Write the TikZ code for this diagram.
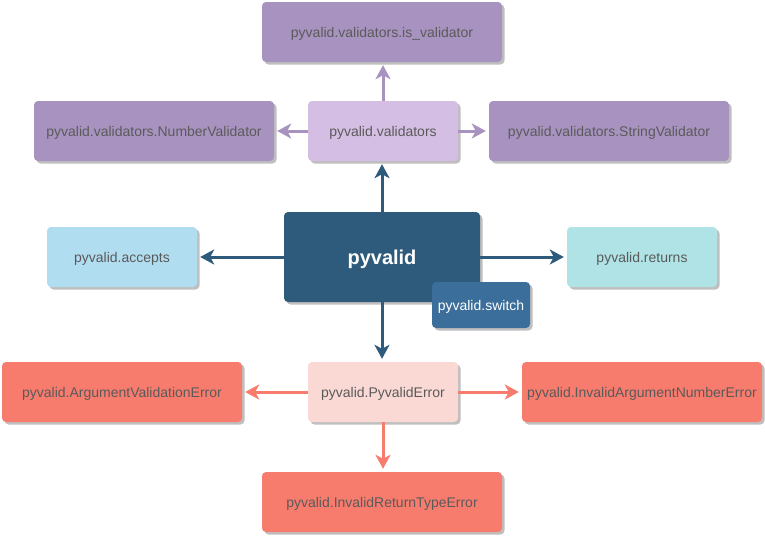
\documentclass[tikz,border=0pt]{standalone}
\usepackage{fontspec}
\setmainfont{Liberation Sans}
\usetikzlibrary{arrows.meta,shadows}
\definecolor{txt}{HTML}{5A5A5A}
\definecolor{purpD}{HTML}{A893C0}
\definecolor{purpL}{HTML}{D5BEE3}
\definecolor{navy}{HTML}{2E5B7C}
\definecolor{swblue}{HTML}{3B6E9A}
\definecolor{accB}{HTML}{B1DDF0}
\definecolor{retC}{HTML}{B0E3E6}
\definecolor{errL}{HTML}{FAD9D5}
\definecolor{errD}{HTML}{F87C6D}
\tikzset{
  box/.style={rectangle, rounded corners=4pt, draw=none, text=txt,
    font=\fontsize{14}{16}\selectfont, inner sep=0pt, text depth=0pt,
    drop shadow={shadow xshift=2.5pt, shadow yshift=-2.5pt, fill=black, opacity=0.25}},
  arr/.style={line width=3pt, shorten >=3pt, -{Stealth[length=14pt,width=15pt,inset=4pt]}},
}
\begin{document}
\begin{tikzpicture}[x=1pt,y=-1pt]
\useasboundingbox[fill=white] (0,0) rectangle (765,536);
% nodes
\node[box, fill=purpD, minimum width=240pt, minimum height=60pt] (isv) at (382,32) {pyvalid.validators.is\_validator};
\node[box, fill=purpD, minimum width=240pt, minimum height=60pt] (numv) at (154,131) {pyvalid.validators.NumberValidator};
\node[box, fill=purpL, minimum width=150pt, minimum height=60pt] (vals) at (383,131) {pyvalid.validators};
\node[box, fill=purpD, minimum width=240pt, minimum height=60pt] (strv) at (609,131) {pyvalid.validators.StringValidator};
\node[box, fill=navy, minimum width=196pt, minimum height=90pt, text=white, font=\fontsize{20}{23}\selectfont\bfseries] (pv) at (382,257) {pyvalid};
\node[box, fill=accB, minimum width=150pt, minimum height=60pt] (acc) at (122,257) {pyvalid.accepts};
\node[box, fill=retC, minimum width=150pt, minimum height=60pt] (ret) at (642,257) {pyvalid.returns};
\node[box, fill=errL, minimum width=150pt, minimum height=60pt] (perr) at (383,392) {pyvalid.PyvalidError};
\node[box, fill=errD, minimum width=240pt, minimum height=60pt] (ave) at (122,392) {pyvalid.ArgumentValidationError};
\node[box, fill=errD, minimum width=240pt, minimum height=60pt] (iane) at (642,392) {pyvalid.InvalidArgumentNumberError};
\node[box, fill=errD, minimum width=240pt, minimum height=60pt] (irte) at (382,502) {pyvalid.InvalidReturnTypeError};
\node[box, fill=swblue, minimum width=98pt, minimum height=46pt, text=white] (sw) at (481,305) {pyvalid.switch};
% connectors
\draw[arr, purpD] (vals.north) -- (vals.north |- isv.south);
\draw[arr, purpD] (vals.west) -- (numv.east |- vals.west);
\draw[arr, purpD] (vals.east) -- (strv.west |- vals.east);
\draw[arr, navy] (pv.north) -- (pv.north |- vals.south);
\draw[arr, navy] (pv.west) -- (acc.east |- pv.west);
\draw[arr, navy] (pv.east) -- (ret.west |- pv.east);
\draw[arr, navy] (pv.south) -- (pv.south |- perr.north);
\draw[arr, errD] (perr.west) -- (ave.east |- perr.west);
\draw[arr, errD] (perr.east) -- (iane.west |- perr.east);
\draw[arr, errD] (perr.south) -- (perr.south |- irte.north);
\end{tikzpicture}
\end{document}
